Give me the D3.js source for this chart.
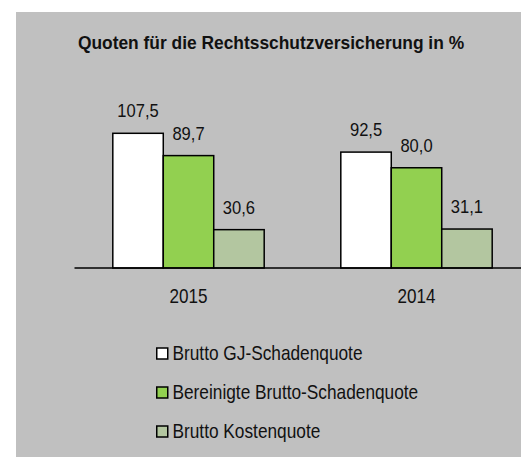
<!DOCTYPE html>
<html>
<head>
<meta charset="utf-8">
<script src="https://cdn.jsdelivr.net/npm/d3@7"></script>
<style>
  html, body { margin: 0; padding: 0; background: #fff; }
  svg { display: block; }
</style>
</head>
<body>
<svg id="chart" width="521" height="457"></svg>
<script>
// data
const years = ["2015", "2014"];
const seriesNames = ["Brutto GJ-Schadenquote", "Bereinigte Brutto-Schadenquote", "Brutto Kostenquote"];
const schadenquote = [107.5, 92.5];
const bereinigt = [89.7, 80.0];
const kostenquote = [30.6, 31.1];
const seriesColors = ["#ffffff", "#92d050", "#b3c6a0"];

const values = [schadenquote, bereinigt, kostenquote];
const fmt = v => d3.format(".1f")(v).replace(".", ",");

const svg = d3.select("#chart");
const sans = "'Liberation Sans', Arial, sans-serif";

// panel background
svg.append("rect")
  .attr("x", 16).attr("y", 12)
  .attr("width", 521 - 16).attr("height", 457 - 12)
  .attr("fill", "#c0c0c0");

// title, slightly condensed like the original
svg.append("text")
  .attr("transform", "translate(271,49) scale(0.94,1)")
  .attr("text-anchor", "middle")
  .style("font-family", sans)
  .style("font-weight", "bold")
  .style("font-size", "18.5px")
  .attr("fill", "#111")
  .text("Quoten für die Rechtsschutzversicherung in %");

const x0 = d3.scaleBand()
  .domain(years)
  .range([74.5, 530.5])
  .paddingInner(0.336)
  .paddingOuter(0.168);

const x1 = d3.scaleBand()
  .domain(d3.range(seriesNames.length))
  .range([0, x0.bandwidth()]);

const y = d3.scaleLinear()
  .domain([0, 100])
  .range([268, 142.7]);

const groups = svg.selectAll("g.year")
  .data(years)
  .enter()
  .append("g")
    .attr("class", "year")
    .attr("transform", d => `translate(${x0(d)},0)`);

groups.selectAll("rect")
  .data((d, i) => values.map((s, k) => ({ k: k, v: s[i] })))
  .enter()
  .append("rect")
    .attr("x", d => x1(d.k))
    .attr("y", d => y(d.v))
    .attr("width", x1.bandwidth())
    .attr("height", d => y(0) - y(d.v))
    .attr("fill", d => seriesColors[d.k])
    .attr("stroke", "#000")
    .attr("stroke-width", 1.5);

groups.selectAll("text.val")
  .data((d, i) => values.map((s, k) => ({ k: k, v: s[i] })))
  .enter()
  .append("text")
    .attr("class", "val")
    .attr("transform", d => `translate(${x1(d.k) + x1.bandwidth() / 2},${y(d.v) - 16}) scale(0.92,1)`)
    .attr("text-anchor", "middle")
    .style("font-family", sans)
    .style("font-size", "18px")
    .attr("fill", "#111")
    .text(d => fmt(d.v));

// baseline
svg.append("line")
  .attr("x1", 74.5).attr("x2", 521)
  .attr("y1", y(0)).attr("y2", y(0))
  .attr("stroke", "#000")
  .attr("stroke-width", 1.5);

const xAxis = d3.axisBottom(x0).tickSize(0).tickPadding(0);
const axisG = svg.append("g")
  .attr("transform", `translate(0,${y(0)})`)
  .call(xAxis);
axisG.select(".domain").remove();
axisG.selectAll("text")
  .attr("dy", null)
  .attr("y", 0)
  .attr("transform", "translate(0,34.5) scale(0.855,1)")
  .style("font-family", sans)
  .style("font-size", "20px")
  .attr("fill", "#111");

// legend
const legend = svg.append("g").attr("transform", "translate(156,0)");
const rows = legend.selectAll("g")
  .data(seriesNames)
  .enter()
  .append("g")
    .attr("transform", (d, i) => `translate(0,${360 + i * 39})`);

rows.append("rect")
  .attr("x", 0.75).attr("y", -12)
  .attr("width", 11).attr("height", 11)
  .attr("fill", (d, i) => seriesColors[i])
  .attr("stroke", "#000")
  .attr("stroke-width", 1.5);

rows.append("text")
  .attr("transform", "translate(16.5,0) scale(0.864,1)")
  .style("font-family", sans)
  .style("font-size", "20px")
  .attr("fill", "#111")
  .text(d => d);
</script>
</body>
</html>
